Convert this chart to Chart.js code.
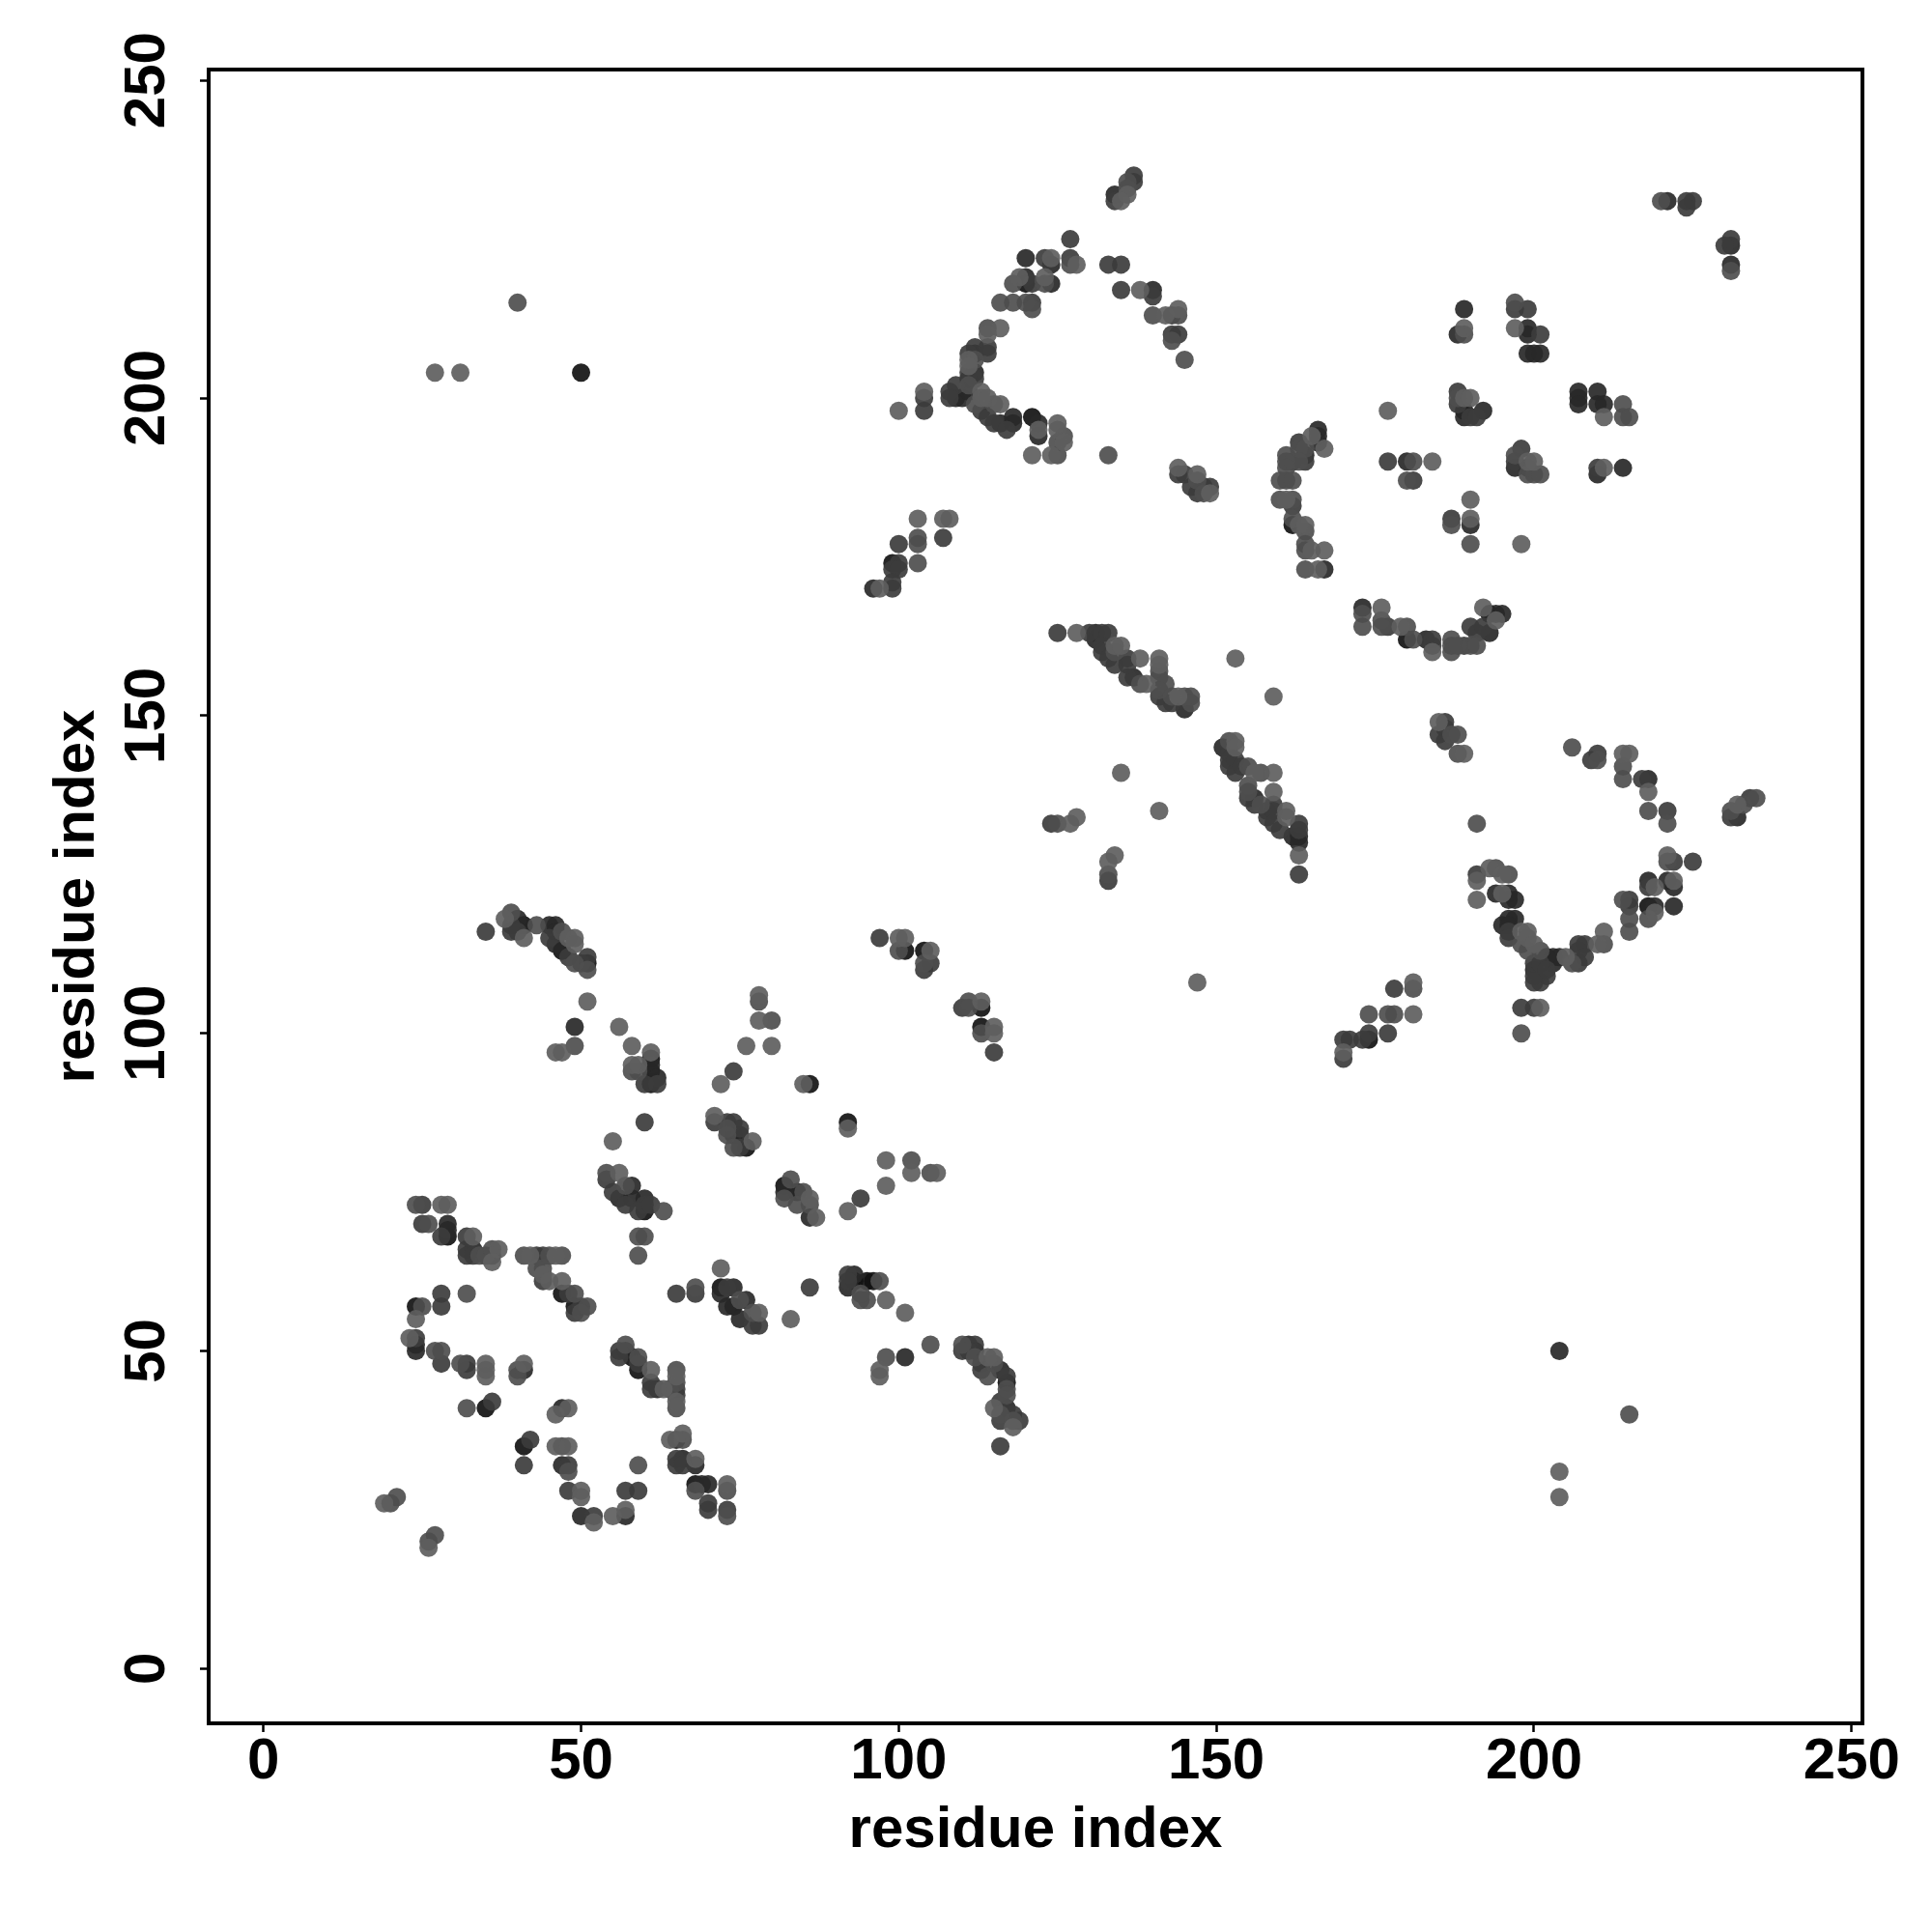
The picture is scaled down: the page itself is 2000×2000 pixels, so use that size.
<!DOCTYPE html>
<html>
<head>
<meta charset="utf-8">
<title>residue contact map</title>
<script src="https://cdn.jsdelivr.net/npm/chart.js@4"></script>
<style>
  html, body { margin: 0; padding: 0; background: #fff; }
  canvas { display: block; }
</style>
</head>
<body>
<canvas id="myChart" width="2000" height="2000"></canvas>
<script>
// each contact is [residue x, residue y, strength 1 (weak) .. 5 (strong)]
const singles = [[27,204,1],[31,204,1],[50,204,5],[40,215,2],[204,50,4],[204,31,1],[204,27,1],[215,40,2],[147,108,1]];

const lowerLeft = [
  [24,73,2],[25,73,3],[28,73,1],[29,73,1],[25,70,3],[26,70,2],[29,70,4],[29,69,4],[29,68,5],[28,68,3],[32,68,3],[33,68,1],[32,66,3],[33,66,4],[32,65,3],[33,65,3],[34,65,2],[35,65,2],[36,66,2],[37,66,1],[36,64,1],[36,65,4],
  [41,65,2],[42,65,1],[43,65,3],[44,65,3],[45,65,2],[46,65,1],[47,65,2],[43,63,2],[44,63,2],[44,62,1],[44,61,3],[45,61,1],[47,61,1],[47,59,5],[48,59,3],[49,59,2],[49,57,5],[50,57,3],[51,57,2],[49,56,3],[50,56,2],
  [28,59,3],[28,57,3],[32,59,2],[24,57,5],[25,57,2],[24,55,1],[23,52,1],[24,52,3],[24,51,4],[24,50,4],[27,50,2],[28,50,2],[28,48,3],[31,48,2],[32,48,3],[32,47,3],[35,48,1],[35,47,1],[35,46,1],[41,48,1],[41,47,4],[40,47,2],[40,46,2],
  [32,41,2],[35,41,5],[36,42,3],[46,40,1],[47,41,4],[48,41,1],[41,35,5],[42,36,3],[41,32,3],[46,35,1],[47,35,2],[48,35,1],[47,32,4],[48,32,3],[48,31,2],[48,28,3],[50,28,1],[50,27,1],[50,24,4],[52,24,3],[52,23,1],[55,24,1],[57,24,4],[57,25,1],[59,32,2],[57,28,3],[59,28,3],
  [19,26,1],[20,26,2],[21,27,2],[27,21,2],[26,20,2],[26,19,1]
];

const lowerMiddle = [
  [57,51,2],[56,50,3],[56,49,3],[57,50,4],[58,49,5],[59,49,2],[59,48,3],[59,47,5],[61,47,1],[61,45,3],[61,44,3],[62,44,4],[63,44,1],[64,44,2],[65,47,2],[65,46,1],[65,45,2],[65,44,3],[65,43,3],[65,42,1],[65,41,2],
  [64,36,1],[65,36,4],[66,37,1],[66,36,2],[65,33,3],[65,32,3],[66,33,4],[66,32,3],[68,33,1],[68,32,4],[68,29,5],[69,29,4],[70,29,4],[68,28,2],[70,26,3],[70,25,3],[73,29,1],[73,28,2],[73,25,3],[73,24,2],
  [54,78,2],[56,78,1],[54,77,3],[55,75,3],[58,76,4],[57,76,2],[57,73,3],[58,74,4],[56,74,4],[60,74,4],[60,73,3],[60,72,5],[59,72,3],[61,73,3],[63,72,2],[59,68,2],[60,68,2],[59,65,2]
];

const leftArc = [
  [35,116,3],[38,118,1],[39,119,2],[40,118,4],[39,117,3],[39,116,3],[41,117,5],[41,115,1],[40,116,3],[43,117,2],[45,117,4],[46,117,4],[45,115,3],[46,116,4],[47,116,2],[48,115,1],[49,115,1],[49,114,1],[46,114,4],[47,113,5],[48,112,3],[49,111,2],[50,111,3],[51,112,3],[51,111,5],[51,110,2],
  [51,105,1],[49,101,4],[46,97,1],[47,97,1],[49,98,2],[56,101,1],[58,98,1],[61,97,1],[61,96,5],[61,95,4],[58,95,1],[59,95,1],[58,94,2],[59,94,2],[60,92,3],[61,92,5],[62,92,3],[62,93,4],[61,94,5],[60,86,3],[55,83,1]
];

const centerLeft = [
  [78,106,1],[78,105,2],[78,102,1],[80,102,2],[76,98,1],[80,98,1],[74,94,3],[72,92,1],[85,92,1],[86,92,5],[92,86,5],[92,85,1],[98,80,1],[102,80,2],[102,78,1],[105,78,2],[106,78,1],[98,76,1],[94,74,3],[92,72,1],
  [71,87,1],[71,86,3],[73,86,3],[74,86,3],[73,85,2],[75,85,3],[73,84,2],[74,84,5],[75,84,4],[74,82,2],[75,82,3],[76,82,5],[77,83,1],
  [83,77,2],[82,76,5],[82,75,4],[82,74,2],[84,75,5],[85,75,2],[86,74,1],[84,73,2],[86,73,2],[86,71,4],[87,71,1],
  [72,63,1],[65,59,3],[68,60,2],[68,59,3],[86,60,3],[72,60,5],[73,60,3],[74,60,4],[72,59,4],[76,58,4],[73,57,4],[75,58,2],[75,55,4],[77,54,3],[78,54,3],[78,56,1],[77,56,2],[74,57,5],[83,55,1],
  [92,62,3],[92,61,3],[92,60,4],[93,62,4],[93,61,5],[95,61,5],[96,61,5],[97,61,2],[94,58,2],[95,58,2],[94,59,2],[98,58,1],[101,56,1],[105,51,2],[98,49,2],[101,49,4],[97,47,1],[97,46,1]
];

const centerRight = [
  [110,51,2],[111,51,4],[112,51,3],[111,50,3],[112,50,5],[110,50,3],[112,49,2],[113,48,3],[114,49,1],[115,49,1],[113,47,3],[114,46,2],[115,48,2],[116,47,4],[117,46,3],[117,45,5],[117,44,2],[117,43,2],[116,42,3],[115,41,1],[117,41,4],[116,40,2],[118,40,3],[116,39,3],[118,38,1],[118,39,2],[119,39,3],[116,35,3],
  [97,115,3],[100,115,1],[101,115,1],[100,113,2],[101,113,5],[104,113,5],[105,113,1],[104,111,2],[105,111,3],[104,110,3],[110,104,3],[111,105,2],[111,104,2],[113,105,1],[113,104,5],[113,101,5],[113,100,2],[115,101,1],[115,100,1],[115,97,3]
];

const diagonal = [
  [125,163,3],[128,163,1],[130,163,3],[131,163,4],[132,163,3],[133,163,3],[131,162,4],[132,161,3],[132,160,3],[134,161,1],[135,161,1],[133,159,3],[134,160,2],[134,158,3],[136,159,3],[136,158,3],[138,159,1],[141,159,1],[141,158,1],[141,157,2],[136,156,3],[137,156,4],[138,155,2],[139,155,1],[141,156,2],[142,155,2],[141,154,2],[141,153,3],[142,152,3],[143,153,2],[143,152,3],[144,153,1],[145,153,2],[146,153,2],[146,152,2],[145,151,4],
  [153,159,1],[159,153,1],[135,141,1],[141,135,1],[124,133,3],[125,133,2],[127,133,1],[128,134,1],[134,128,1],[133,127,1],[133,125,2],[133,124,3],
  [151,145,4],[152,146,2],[153,146,1],[152,145,3],[153,145,1],[152,144,3],[152,143,3],[152,142,3],[153,143,3],[153,141,3],[154,142,3],[155,142,2],[156,141,1],[157,141,2],[159,141,1],[155,139,2],[155,138,2],[155,137,3],[156,137,4],[156,136,3],[157,136,2],[159,138,1],[159,136,3],[158,135,3],[158,134,3],[159,135,3],[159,133,3],[160,132,3],[161,135,1],[161,134,1],[163,133,3],[163,132,3],[163,131,4],[163,130,4],[162,131,4],[163,128,1],[163,125,3]
];

const rightValley = [
  [185,149,1],[186,149,3],[185,147,3],[186,148,3],[186,146,3],[187,147,2],[188,147,2],[188,144,2],[189,144,1],[206,145,2],[209,143,3],[210,144,3],[210,143,2],[214,144,1],[215,144,1],[214,142,2],[214,140,2],[217,140,3],[218,140,4],[218,138,1],[218,135,2],[221,135,3],[221,133,2],
  [231,134,3],[232,134,4],[231,135,2],[232,136,1],[233,136,2],[234,137,3],[235,137,2],[191,133,2],
  [221,128,1],[221,127,2],[222,127,3],[225,127,3],[218,124,4],[221,124,4],[222,124,1],[222,123,4],[219,123,1],[218,123,3],[218,120,5],[219,120,4],[222,120,4],[218,118,2],[219,119,1],
  [214,121,2],[215,121,3],[215,120,3],[215,118,2],[215,116,2],[211,116,1],[211,114,2],[210,114,1],
  [207,114,3],[208,114,3],[207,113,3],[208,112,3],[207,111,3],[206,111,2],[205,112,1],[204,112,4],[203,112,4],[203,111,4],[202,112,4],[202,109,3],[201,108,3],[200,108,3],[200,109,3],
  [191,125,3],[191,124,1],[191,121,1],[193,126,1],[194,126,2],[195,125,1],[196,125,2],[194,122,4],[195,122,1],[196,122,4],[196,121,4],[197,121,4],[195,117,4],[196,118,4],[197,118,4],[196,117,4],[196,116,3],[196,115,3],[198,116,1],[199,116,1],[198,114,2],[199,115,1],[200,114,1],[199,113,2],[201,113,2],[200,111,3],[201,111,3],[200,110,4],[202,110,3],
  [198,104,3],[200,104,3],[201,104,1],[198,100,2],
  [181,108,1],[181,107,2],[178,107,3],[174,103,2],[177,103,2],[178,103,2],[181,103,1],[177,100,3],[173,99,3],[174,100,3],[174,99,5],[170,99,3],[171,99,3],[170,97,1],[170,96,3]
];

const upperRight = [
  [166,195,4],[166,194,4],[165,194,1],[167,192,1],[166,193,4],[163,193,3],[163,192,2],[164,192,2],[164,191,4],[164,190,3],[163,190,2],[161,191,2],[161,190,2],[162,190,4],[161,189,2],[160,187,2],[161,187,2],[162,187,2],[160,184,2],[161,184,1],[162,184,2],[162,183,3],[162,181,2],[162,180,5],[163,180,1],[164,180,1],[164,179,2],[164,177,2],[165,176,1],[164,176,2],[167,176,1],[164,173,2],[166,173,1],[167,173,4],
  [177,190,3],[180,190,4],[181,190,2],[184,190,1],[180,187,2],[181,187,3],[177,198,1],[190,184,1],[187,181,3],[187,180,2],[190,181,1],[190,180,4],[190,177,2],[198,177,1],
  [198,192,3],[197,191,2],[197,190,3],[197,189,4],[199,190,1],[200,190,1],[199,189,4],[199,188,2],[200,188,2],[201,188,2],[210,188,4],[210,189,3],[211,189,1],[214,189,4],
  [173,167,4],[173,166,2],[173,164,2],[176,167,1],[176,165,2],[176,164,2],[177,164,3],[179,164,1],[180,164,2],[180,162,5],[181,162,2],[183,162,4],[184,162,3],[184,161,3],[184,160,1],[187,162,2],[187,161,2],[187,160,2],[188,161,2],[189,161,3],[190,164,3],[190,161,2],[191,161,2],[191,163,3],[192,167,1],[192,164,3],[193,163,4],[193,166,5],[194,166,4],[195,166,4],[194,165,1],
  [220,231,2],[221,231,4],[224,231,3],[225,231,3],[224,230,3],[231,225,3],[230,224,3],[231,224,4],[231,221,4],[231,220,2],
  [189,214,4],[188,210,4],[189,211,1],[189,210,2],[197,215,2],[197,214,3],[199,214,3],[197,211,1],[199,211,4],[199,210,4],[201,210,3],[199,207,4],[200,207,4],[201,207,4],
  [188,201,3],[188,200,2],[188,199,3],[189,200,1],[190,200,1],[189,197,4],[190,197,3],[191,197,3],[192,198,4],[189,198,5],
  [207,201,4],[207,200,4],[207,199,4],[210,201,4],[210,199,4],[211,199,4],[211,197,1],[214,199,2],[214,197,2],[215,197,2]
];

const upperMiddle = [
  [137,235,3],[137,234,3],[136,234,2],[136,233,2],[136,232,1],[134,232,4],[134,231,3],[135,231,1],
  [127,225,3],[120,222,4],[123,222,3],[124,222,1],[124,221,4],[127,222,3],[127,221,2],[128,221,1],[133,221,3],[135,221,3],[135,217,3],[138,217,1],[140,217,4],[140,216,3],[140,213,2],[142,213,1],[143,213,3],[144,214,1],[144,213,2],[143,210,3],[144,210,3],[143,209,2],[145,206,2],
  [118,218,2],[119,219,1],[120,219,4],[120,218,5],[121,218,3],[123,219,1],[123,218,2],[124,218,4],[116,215,2],[118,215,2],[120,215,2],[121,215,3],[121,214,2],[114,211,2],[116,211,1],[114,210,1],
  [112,208,3],[114,208,3],[111,207,3],[114,207,3],[112,207,5],[111,206,1],[112,206,2],[111,205,1],[111,204,3],[112,204,4],[111,203,4],[112,203,3],[111,202,2],[109,202,3],[108,201,3],[108,200,3],[109,200,4],[110,200,4],[111,201,4],[113,201,1],[113,200,1],[114,200,1],[112,199,2],[115,199,2],[116,199,1],[113,198,3],[114,197,3],[115,196,3],[116,196,4],[117,195,3],[118,196,4],[118,197,4],
  [104,201,1],[104,200,3],[104,198,3],[100,198,1],[121,197,5],[122,196,4],[122,194,4],[122,195,1],[125,196,1],[125,195,1],[126,194,2],[125,193,2],[126,193,1],[121,191,1],[124,191,1],[125,191,2],[133,191,2],
  [144,189,1],[144,188,3],[145,188,3],[147,188,1],[146,186,3],[147,187,2],[148,186,4],[149,186,3],[149,185,1],[147,185,3],[148,185,2],
  [103,181,1],[107,181,1],[108,181,1],[103,178,2],[103,177,2],[107,178,3],[100,177,3],[103,174,2],[99,174,5],[100,174,3],[99,173,3],[100,173,3],[96,170,4],[97,170,1],[99,170,3],[99,171,3]
];

const tickValues = [0, 50, 100, 150, 200, 250];
const axisLabel = 'residue index';
const axisMin = -8.62;
const axisMax = 251.7;

const contacts = [].concat(singles, lowerLeft, lowerMiddle, leftArc, centerLeft, centerRight, diagonal, rightValley, upperRight, upperMiddle);

// stronger contacts are darker; chart.js paints the first dataset last, so weak ones end up on top
const greys = {1: 94, 2: 78, 3: 60, 4: 40, 5: 18};
const datasets = [1, 2, 3, 4, 5].map(level => ({
    label: 'strength ' + level,
    data: contacts.filter(c => c[2] === level).map(c => ({x: c[0], y: c[1]})),
    backgroundColor: `rgba(${greys[level]}, ${greys[level]}, ${greys[level]}, 0.92)`,
    pointRadius: 9.5,
    pointBorderWidth: 0,
    pointHoverRadius: 9.5
}));

const labelFont = {family: '"Liberation Sans"', size: 60, weight: 'bold'};
const titleFont = {family: '"Liberation Sans"', size: 60, weight: 'bold'};

const gridOpts = {
    drawOnChartArea: false,
    drawTicks: true,
    tickLength: 9,
    tickWidth: 2.5,
    tickColor: '#000'
};

// box round the plot, R's box()
const plotBox = {
    id: 'plotBox',
    afterDraw(chart) {
        const {ctx, chartArea: a} = chart;
        ctx.save();
        ctx.strokeStyle = '#000';
        ctx.lineWidth = 4;
        ctx.strokeRect(a.left, a.top, a.right - a.left, a.bottom - a.top);
        ctx.restore();
    }
};

new Chart(document.getElementById('myChart'), {
    type: 'scatter',
    data: {datasets},
    plugins: [plotBox],
    options: {
        responsive: false,
        animation: false,
        layout: {padding: {top: 72, right: 72, left: 0, bottom: 0}},
        plugins: {legend: {display: false}, tooltip: {enabled: false}},
        scales: {
            x: {
                type: 'linear',
                min: axisMin,
                max: axisMax,
                grid: gridOpts,
                border: {display: false},
                afterBuildTicks: axis => { axis.ticks = tickValues.map(v => ({value: v})); },
                afterFit: axis => { axis.height = 216; },
                ticks: {color: '#000', font: labelFont, padding: -5, maxRotation: 0, autoSkip: false},
                title: {display: true, text: axisLabel, color: '#000', font: titleFont, padding: {top: 0, bottom: 69}}
            },
            y: {
                type: 'linear',
                min: axisMin,
                max: axisMax,
                grid: gridOpts,
                border: {display: false},
                afterBuildTicks: axis => { axis.ticks = tickValues.map(v => ({value: v})); },
                afterFit: axis => { axis.width = 216; },
                ticks: {color: '#000', font: labelFont, padding: 3.5, minRotation: 90, maxRotation: 90, crossAlign: 'center', autoSkip: false},
                title: {display: true, text: axisLabel, color: '#000', font: titleFont, padding: {top: 44, bottom: 0}}
            }
        }
    }
});
</script>
</body>
</html>
